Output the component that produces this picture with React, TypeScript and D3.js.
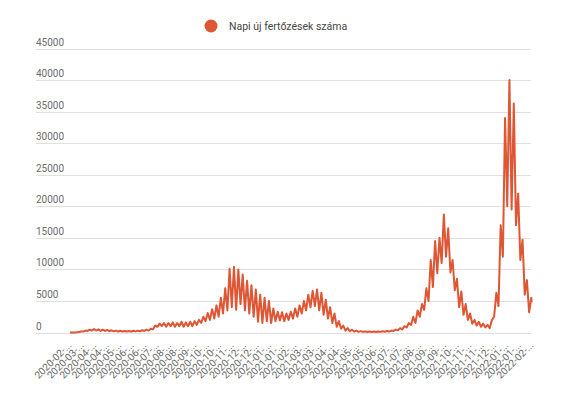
import React, { useEffect, useRef } from "react";
import * as d3 from "d3";

// weekly high / weekend low of daily new cases
const peaks2020 = [10, 30, 150, 300, 450, 550, 500, 450, 400, 350, 300, 280, 250, 250, 280, 300, 350, 450, 600, 1100, 1400, 1500, 1500, 1600, 1500, 1700, 1600, 1700, 1800, 2000, 2500, 3100, 3700, 4300, 5500, 7000, 10100, 10400, 10000, 9200, 8200, 7500, 6800, 6000, 5500];
const lows2020 = [0, 10, 60, 150, 250, 300, 300, 250, 250, 200, 180, 150, 150, 150, 150, 180, 200, 250, 300, 500, 900, 1000, 900, 1000, 900, 1000, 900, 1000, 1000, 1200, 1500, 1800, 2000, 2200, 2500, 3000, 3500, 4000, 3600, 4500, 3500, 3000, 2500, 1700, 1500];
const peaks2021 = [5000, 3800, 3300, 3200, 3000, 3300, 3800, 4300, 5000, 6000, 6600, 6800, 6300, 5200, 4000, 3000, 1800, 1100, 700, 450, 300, 220, 180, 150, 150, 170, 200, 250, 300, 450, 700, 1000, 1500, 2500, 3500, 4500, 7000, 11500, 14500, 15000, 18700, 16500, 11500, 8500, 6500, 4500, 3000, 2000, 1700, 1400, 1200, 2000];
const lows2021 = [1800, 1500, 1800, 1900, 1800, 2000, 2200, 2500, 3000, 3500, 4000, 4200, 3500, 2800, 2200, 1500, 900, 600, 300, 200, 150, 100, 90, 80, 80, 90, 100, 120, 150, 250, 350, 500, 800, 1200, 1500, 2500, 3600, 5000, 7200, 9400, 11000, 12000, 9500, 6700, 4000, 2800, 2000, 1400, 1100, 900, 800, 700];
const peaks2022 = [6300, 17000, 34000, 40000, 36300, 22000, 14700, 8300, 5500];
const lows2022 = [2500, 4200, 12000, 20000, 19500, 17000, 11500, 6000, 3200];
const lastValue = 4800;

const tickLabels = [
  "2020-02", "2020-03", "2020-04", "2020-04", "2020-05", "2020-06", "2020-06", "2020-07",
  "2020-08", "2020-08", "2020-09", "2020-10", "2020-10", "2020-11", "2020-12", "2020-12",
  "2021-01", "2021-01", "2021-02", "2021-03", "2021-03", "2021-04", "2021-04", "2021-05",
  "2021-05", "2021-06", "2021-07", "2021-07", "2021-08", "2021-09", "2021-09", "2021-10",
  "2021-11", "2021-11", "2021-12", "2022-01", "2022-01", "2022-02",
];
const yTicks = [0, 5000, 10000, 15000, 20000, 25000, 30000, 35000, 40000, 45000];
const seriesName = "Napi új fertőzések száma";

const COLOR = "#de5634";
const FONT = "Roboto, 'Liberation Sans', Arial, sans-serif";

function App() {
  const svgRef = useRef<SVGSVGElement>(null);

  useEffect(() => {
    const width = 575;
    const height = 397;
    const svg = d3.select(svgRef.current);
    svg.selectAll("*").remove();

    const peaks = [...peaks2020, ...peaks2021, ...peaks2022];
    const lows = [...lows2020, ...lows2021, ...lows2022];
    const data: { day: number; value: number }[] = [];
    lows.forEach((low, w) => {
      data.push({ day: w * 7, value: low });
      data.push({ day: w * 7 + 3.5, value: peaks[w] });
    });
    const lastDay = lows.length * 7 - 3;
    data.push({ day: lastDay, value: lastValue });

    const x = d3.scaleLinear().domain([0, lastDay]).range([70, 531.6]);
    const y = d3.scaleLinear().domain([0, 45000]).range([332.5, 48.5]);

    // gridlines with labels sitting above them
    const grid = svg.append("g");
    grid
      .selectAll("line")
      .data(yTicks)
      .join("line")
      .attr("x1", 36)
      .attr("x2", 531)
      .attr("y1", (d) => Math.round(y(d)) + 0.5)
      .attr("y2", (d) => Math.round(y(d)) + 0.5)
      .attr("stroke", "#e0e0e0")
      .attr("stroke-width", 1);
    grid
      .selectAll("text")
      .data(yTicks)
      .join("text")
      .attr("x", 36)
      .attr("y", (d) => y(d) - 3)
      .attr("font-family", FONT)
      .attr("font-size", 10)
      .attr("fill", "#6b6b6b")
      .text((d) => d);

    // x labels every 20 days, slanted
    const xl = svg.append("g");
    xl.selectAll("text")
      .data(tickLabels)
      .join("text")
      .attr("transform", (_, i) => `translate(${x(i * 20) + 2},${346}) rotate(-45)`)
      .attr("text-anchor", "end")
      .attr("font-family", FONT)
      .attr("font-size", 10)
      .attr("fill", "#666")
      .text((d) => `${d}-...`);

    const line = d3
      .line<{ day: number; value: number }>()
      .x((d) => x(d.day))
      .y((d) => y(d.value));

    svg
      .append("path")
      .attr("d", line(data))
      .attr("fill", "none")
      .attr("stroke", COLOR)
      .attr("stroke-width", 2)
      .attr("stroke-linejoin", "round");

    // legend
    const legend = svg.append("g");
    legend.append("circle").attr("cx", 211).attr("cy", 26).attr("r", 6.5).attr("fill", COLOR);
    legend
      .append("text")
      .attr("x", 229)
      .attr("y", 30)
      .attr("font-family", FONT)
      .attr("font-size", 10.5)
      .attr("fill", "#444")
      .text(seriesName);

    svg.attr("width", width).attr("height", height);
  }, []);

  return (
    <svg
      ref={svgRef}
      width={575}
      height={397}
      style={{ position: "absolute", left: 0, top: 0, background: "#fff" }}
    />
  );
}

export default App;
